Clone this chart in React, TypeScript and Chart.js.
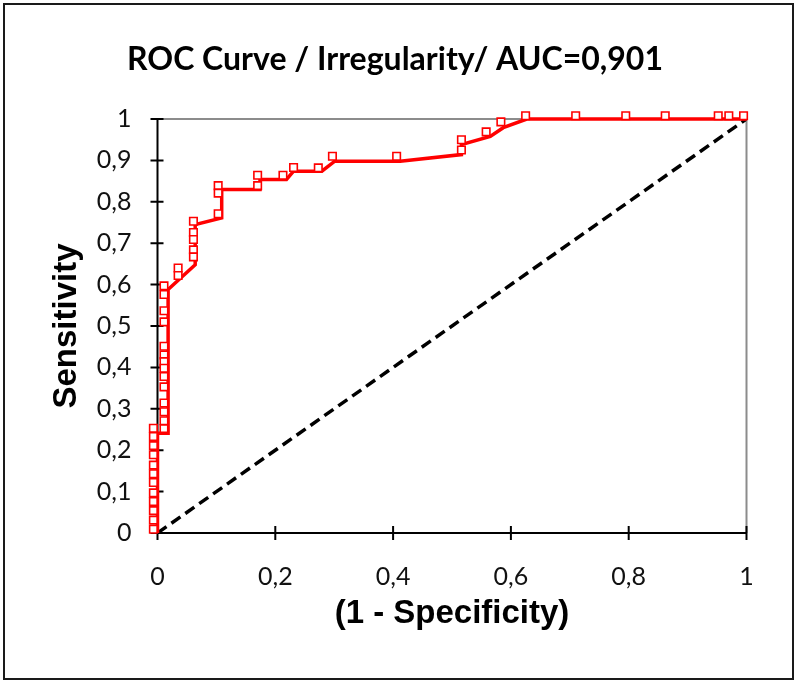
import React, { useEffect, useRef } from 'react';
import { Chart, registerables } from 'chart.js';

Chart.register(...registerables);

const chartTitle = 'ROC Curve / Irregularity/ AUC=0,901';
const xAxisTitle = '(1 - Specificity)';
const yAxisTitle = 'Sensitivity';

const xTickLabels = ['0', '0,2', '0,4', '0,6', '0,8', '1'];
const yTickLabels = ['0', '0,1', '0,2', '0,3', '0,4', '0,5', '0,6', '0,7', '0,8', '0,9', '1'];

// ROC curve (line vertices)
const curveX = [0, 0, 0.018, 0.018, 0.064, 0.064, 0.109, 0.109, 0.174, 0.174, 0.219, 0.231, 0.279, 0.301, 0.412, 0.516, 0.516, 0.565, 0.587, 0.627, 1];
const curveY = [0, 0.241, 0.241, 0.588, 0.648, 0.745, 0.761, 0.83, 0.83, 0.854, 0.854, 0.874, 0.874, 0.898, 0.898, 0.914, 0.938, 0.958, 0.979, 1.0, 1.0];

// Threshold markers (listed from the top-right end down to the origin)
const markerX = [
  0.995, 0.97, 0.952, 0.862, 0.795, 0.71, 0.625, 0.583, 0.558, 0.516, 0.516, 0.406, 0.297, 0.273,
  0.231, 0.213, 0.17, 0.17, 0.103, 0.103, 0.103, 0.061, 0.061, 0.061, 0.061, 0.061, 0.035, 0.035,
  0.011, 0.011, 0.011, 0.011, 0.011, 0.011, 0.011, 0.011, 0.011, 0.011, 0.011, 0.011, 0.011, 0.011,
  -0.007, -0.007, -0.007, -0.007, -0.007, -0.007, -0.007, -0.007, -0.007, -0.007, -0.007, -0.007,
];
const markerY = [
  1.008, 1.008, 1.008, 1.008, 1.008, 1.008, 1.008, 0.993, 0.969, 0.95, 0.925, 0.91, 0.91, 0.882,
  0.883, 0.864, 0.864, 0.839, 0.839, 0.821, 0.771, 0.753, 0.726, 0.709, 0.684, 0.667, 0.64, 0.622,
  0.597, 0.576, 0.537, 0.51, 0.451, 0.43, 0.414, 0.398, 0.378, 0.353, 0.314, 0.293, 0.271, 0.252,
  0.253, 0.233, 0.211, 0.189, 0.164, 0.143, 0.122, 0.097, 0.076, 0.054, 0.031, 0.009,
];

// Random-classifier reference line
const diagX = [0, 1];
const diagY = [0, 1];

const decor = {
  id: 'decor',
  beforeDatasetsDraw(chart: any) {
    const { ctx, chartArea: a, scales } = chart;
    const xs = scales.x;
    const ys = scales.y;
    ctx.save();
    ctx.lineWidth = 2;
    ctx.strokeStyle = '#8c8c8c';
    ctx.beginPath();
    ctx.moveTo(a.left, a.top);
    ctx.lineTo(a.right, a.top);
    ctx.lineTo(a.right, a.bottom);
    ctx.stroke();
    ctx.strokeStyle = '#000';
    ctx.beginPath();
    ctx.moveTo(a.left, a.top);
    ctx.lineTo(a.left, a.bottom);
    ctx.lineTo(a.right, a.bottom);
    ys.ticks.forEach((_t: any, i: number) => {
      const py = ys.getPixelForTick(i);
      ctx.moveTo(a.left - 7, py);
      ctx.lineTo(a.left + 6, py);
    });
    xs.ticks.forEach((_t: any, i: number) => {
      const px = xs.getPixelForTick(i);
      ctx.moveTo(px, a.bottom - 7);
      ctx.lineTo(px, a.bottom + 7);
    });
    ctx.stroke();
    ctx.restore();
  },
  afterDraw(chart: any) {
    const { ctx, chartArea: a } = chart;
    ctx.save();
    ctx.fillStyle = '#000';
    ctx.textAlign = 'center';
    ctx.textBaseline = 'alphabetic';
    ctx.font = 'bold 32px Lato';
    ctx.fillText(chartTitle, 395, 70);
    ctx.font = 'bold 33px "Liberation Sans", Arial, sans-serif';
    ctx.fillText(xAxisTitle, (a.left + a.right) / 2, 623);
    ctx.translate(76, (a.top + a.bottom) / 2);
    ctx.rotate(-Math.PI / 2);
    ctx.fillText(yAxisTitle, 0, 0);
    ctx.restore();
    ctx.save();
    ctx.strokeStyle = '#1a1a1a';
    ctx.lineWidth = 2;
    ctx.strokeRect(4, 4, 789, 675);
    ctx.restore();
  },
};

export default function App() {
  const ref = useRef<HTMLCanvasElement | null>(null);
  useEffect(() => {
    if (!ref.current) return;
    const chart = new Chart(ref.current, {
      type: 'scatter',
      data: {
        datasets: [
          {
            label: 'markers',
            data: markerX.map((x, i) => ({ x, y: markerY[i] })),
            showLine: false,
            pointStyle: 'rect',
            pointRadius: 5.3,
            pointBorderWidth: 1.6,
            pointBorderColor: '#ff0000',
            pointBackgroundColor: '#ffffff',
            clip: false,
            order: 0,
          },
          {
            label: 'curve',
            data: curveX.map((x, i) => ({ x, y: curveY[i] })),
            showLine: true,
            borderColor: '#ff0000',
            borderWidth: 3.5,
            pointRadius: 0,
            clip: false,
            order: 1,
          },
          {
            label: 'diagonal',
            data: diagX.map((x, i) => ({ x, y: diagY[i] })),
            showLine: true,
            borderColor: '#000000',
            borderWidth: 3.5,
            borderDash: [11, 6],
            pointRadius: 0,
            order: 2,
          },
        ] as any,
      },
      options: {
        animation: false,
        responsive: false,
        layout: { padding: { top: 119, right: 51.5, left: 0, bottom: 0 } },
        plugins: { legend: { display: false }, tooltip: { enabled: false }, title: { display: false } },
        scales: {
          x: {
            type: 'linear',
            min: 0,
            max: 1,
            ticks: {
              stepSize: 0.2,
              padding: 29,
              color: '#111',
              font: { family: 'Lato', size: 25 },
              callback: (_v: any, i: number) => xTickLabels[i],
              maxRotation: 0,
            },
            grid: { display: false, drawTicks: false },
            border: { display: false },
            afterFit: (s: any) => { s.height = 151; },
          },
          y: {
            type: 'linear',
            min: 0,
            max: 1,
            ticks: {
              stepSize: 0.1,
              padding: 26,
              color: '#111',
              font: { family: 'Lato', size: 25 },
              callback: (_v: any, i: number) => yTickLabels[i],
            },
            grid: { display: false, drawTicks: false },
            border: { display: false },
            afterFit: (s: any) => { s.width = 157.5; },
          },
        },
      } as any,
      plugins: [decor],
    });
    return () => chart.destroy();
  }, []);
  return (
    <div style={{ position: 'absolute', left: 0, top: 0, width: 798, height: 684, background: '#fff' }}>
      <canvas ref={ref} width={798} height={684} style={{ display: 'block' }} />
    </div>
  );
}
